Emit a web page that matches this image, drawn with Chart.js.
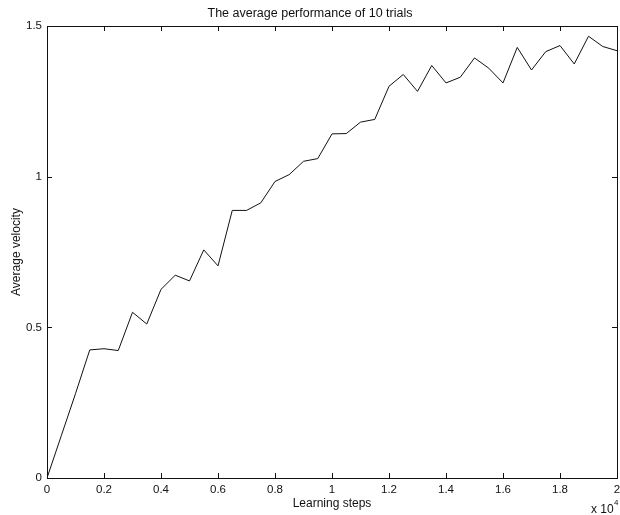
<!DOCTYPE html>
<html>
<head>
<meta charset="utf-8">
<script src="https://cdn.jsdelivr.net/npm/chart.js@4"></script>
<style>
  html, body { margin: 0; padding: 0; background: #fff; }
  #wrap { width: 620px; height: 515px; }
</style>
</head>
<body>
<div id="wrap"><canvas id="perfChart"></canvas></div>
<script>
    // learning steps (in units of 10^4)
    const steps = [
      0, 0.05, 0.1, 0.15, 0.2, 0.25, 0.3, 0.35, 0.4, 0.45,
      0.5, 0.55, 0.6, 0.65, 0.7, 0.75, 0.8, 0.85, 0.9, 0.95,
      1.0, 1.05, 1.1, 1.15, 1.2, 1.25, 1.3, 1.35, 1.4, 1.45,
      1.5, 1.55, 1.6, 1.65, 1.7, 1.75, 1.8, 1.85, 1.9, 1.95, 2.0
    ];
    const avgVelocity = [
      0, 0.14, 0.28, 0.425, 0.429, 0.423, 0.55, 0.511, 0.626, 0.673,
      0.654, 0.757, 0.704, 0.888, 0.888, 0.913, 0.984, 1.007, 1.051, 1.06,
      1.142, 1.143, 1.181, 1.19, 1.3, 1.339, 1.283, 1.369, 1.311, 1.33,
      1.394, 1.36, 1.311, 1.429, 1.354, 1.415, 1.435, 1.374, 1.466, 1.432, 1.418
    ];
    const xTicks = [0, 0.2, 0.4, 0.6, 0.8, 1, 1.2, 1.4, 1.6, 1.8, 2];
    const yTicks = [0, 0.5, 1, 1.5];

    const points = steps.map((s, i) => ({ x: s, y: avgVelocity[i] }));
    const FONT = 'Liberation Sans, Arial, Helvetica, sans-serif';
    const fmt = (v) => String(+v.toFixed(2)); // 1 not 1.0, like matlab

    // matlab style box with inward ticks + the x 10^4 multiplier
    const boxPlugin = {
      id: 'box',
      afterDraw(chart) {
        const { ctx, chartArea: a, scales } = chart;
        const tl = 5;
        ctx.save();
        ctx.strokeStyle = '#111';
        ctx.lineWidth = 1;
        ctx.strokeRect(a.left + 0.5, a.top + 0.5, a.right - a.left, a.bottom - a.top);
        ctx.beginPath();
        xTicks.forEach(v => {
          const px = Math.round(scales.x.getPixelForValue(v)) + 0.5;
          ctx.moveTo(px, a.bottom); ctx.lineTo(px, a.bottom - tl);
          ctx.moveTo(px, a.top); ctx.lineTo(px, a.top + tl);
        });
        yTicks.forEach(v => {
          const py = Math.round(scales.y.getPixelForValue(v)) + 0.5;
          ctx.moveTo(a.left, py); ctx.lineTo(a.left + tl, py);
          ctx.moveTo(a.right, py); ctx.lineTo(a.right - tl, py);
        });
        ctx.stroke();

        ctx.fillStyle = '#111';
        ctx.font = '12px ' + FONT;
        ctx.textAlign = 'left';
        ctx.textBaseline = 'alphabetic';
        ctx.fillText('x 10', 591, 513);
        ctx.font = '8px ' + FONT;
        ctx.fillText('4', 614, 505);
        ctx.restore();
      }
    };

    const config = {
      type: 'line',
      data: {
        datasets: [{
          data: points,
          borderColor: '#111',
          borderWidth: 1,
          pointRadius: 0,
          tension: 0,
          fill: false
        }]
      },
      options: {
        responsive: true,
        maintainAspectRatio: false,
        animation: false,
        layout: { padding: 0 },
        scales: {
          x: {
            type: 'linear',
            min: 0,
            max: 2,
            afterFit: (s) => { s.height = 37; s.paddingRight = 3; s.paddingLeft = 0; },
            afterBuildTicks: (s) => { s.ticks = xTicks.map(v => ({ value: v })); },
            grid: { display: false, drawTicks: false },
            border: { display: false },
            ticks: { color: '#111', padding: 5, maxRotation: 0, callback: fmt, font: { family: FONT, size: 11.5 } },
            title: {
              display: true,
              text: 'Learning steps',
              color: '#111',
              font: { family: FONT, size: 12 },
              padding: { top: 0, bottom: 4 }
            }
          },
          y: {
            min: 0,
            max: 1.5,
            afterFit: (s) => { s.width = 47; },
            afterBuildTicks: (s) => { s.ticks = yTicks.map(v => ({ value: v })); },
            grid: { display: false, drawTicks: false },
            border: { display: false },
            ticks: { color: '#111', padding: 5, callback: fmt, font: { family: FONT, size: 11.5 } },
            title: {
              display: true,
              text: 'Average velocity',
              color: '#111',
              font: { family: FONT, size: 12 },
              padding: { top: 9, bottom: 0 }
            }
          }
        },
        plugins: {
          legend: { display: false },
          tooltip: { enabled: false },
          title: {
            display: true,
            text: 'The average performance of 10 trials',
            color: '#111',
            font: { family: FONT, size: 12.5, weight: 'normal' },
            padding: { top: 6, bottom: 5 }
          }
        }
      },
      plugins: [boxPlugin]
    };

    const perfChart = new Chart(document.getElementById('perfChart'), config);
</script>
</body>
</html>
